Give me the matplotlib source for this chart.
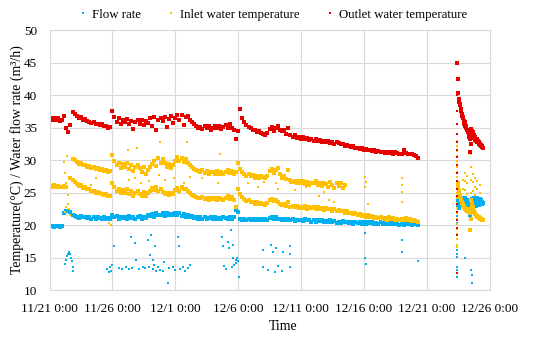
import numpy as np
import matplotlib
matplotlib.use("Agg")
import matplotlib.pyplot as plt

# main record: one reading every 4 h from 11/21 0:00
MAIN_STEP_H = 4

outlet_main = [
    36.4, 36.1, 36.5, 36.2, 36.4, 36.0,   # 11/21
    36.2, 36.8, 35.0, 34.3, 35.4, 37.4,
    37.1, 36.8, 36.5, 36.6, 36.2, 36.3,
    36.0, 35.9, 35.7, 35.8, 35.5, 35.6,
    35.4, 35.5, 35.2, 35.3, 34.9, 35.1,
    37.5, 36.6, 35.9, 36.4, 35.6, 36.2,   # 11/26
    35.8, 36.3, 35.5, 36.0, 34.8, 35.9,
    36.1, 35.6, 36.2, 35.4, 36.0, 35.7,
    36.4, 35.3, 36.7, 34.6, 36.2, 36.5,
    36.0, 36.6, 35.1, 36.3, 36.8, 35.7,
    36.5, 37.0, 36.2, 36.9, 35.4, 36.6,   # 12/1
    36.8, 36.1, 35.9, 35.5, 35.2, 35.0,
    35.1, 34.8, 35.3, 34.9, 35.2, 34.7,
    35.0, 35.3, 34.9, 35.2, 34.8, 35.1,
    35.4, 34.9, 35.6, 35.0, 34.6, 33.2,
    34.5, 37.9, 36.4, 35.8, 35.4, 35.1,   # 12/6
    34.9, 34.6, 34.7, 34.3, 34.5, 34.2,
    34.0, 33.9, 34.2, 34.8, 35.1, 34.5,
    34.9, 35.2, 34.6, 34.4, 34.7, 34.0,
    35.0, 33.9, 33.6, 33.8, 33.4, 33.5,
    33.3, 33.5, 33.2, 33.4, 33.1, 33.3,   # 12/11
    33.0, 33.2, 32.9, 33.1, 32.8, 33.0,
    32.7, 32.9, 32.6, 32.8, 32.5, 32.7,
    32.6, 32.4, 32.5, 32.2, 32.3, 32.1,
    32.0, 32.1, 31.8, 31.9, 31.7, 31.8,
    31.6, 31.7, 31.5, 31.6, 31.4, 31.5,   # 12/16
    31.3, 31.4, 31.2, 31.3, 31.1, 31.2,
    31.1, 31.2, 31.0, 31.2, 31.1, 31.0,
    31.0, 31.6, 31.1, 31.0, 30.9, 31.0,
    30.8, 30.6, 30.3,
]

inlet_high_main = [
    np.nan, np.nan, np.nan, np.nan, np.nan, np.nan,
    np.nan, np.nan, np.nan, np.nan, np.nan, 30.2,
    30.0, 29.7, 29.4, 29.5, 29.2, 29.3,
    29.0, 29.1, 28.8, 28.9, 28.6, 28.7,
    28.5, 28.6, 28.3, 28.4, 28.2, 28.3,
    30.8, 29.9, 29.3, 29.6, 28.8, 29.4,
    29.0, 29.5, 28.6, 29.2, 28.3, 28.9,
    29.3, 28.7, 28.1, 28.9, 27.8, 28.4,
    28.9, 29.4, 29.9, 29.1, 30.3, 29.6,
    30.1, 29.5, 29.0, 29.4, 28.8, 29.3,
    29.8, 30.4, 29.9, 30.3, 29.7, 30.1,
    29.6, 29.2, 28.9, 28.6, 28.4, 28.3,
    28.2, 28.4, 28.0, 28.3, 27.9, 28.2,
    28.1, 27.8, 28.3, 27.9, 28.2, 27.8,
    28.2, 28.4, 28.0, 28.3, 27.9, 28.1,
    29.5, 28.6, 28.1, 27.9, 27.6, 27.8,
    27.5, 27.7, 27.3, 27.6, 27.2, 27.5,
    27.4, 27.2, 27.6, 28.3, 28.6, 28.0,
    28.5, 28.8, 27.9, 27.3, 27.6, 27.1,
    28.5, 26.9, 26.6, 26.8, 26.4, 26.7,
    26.5, 26.8, 26.3, 26.6, 26.2, 26.5,
    26.4, 26.7, 26.1, 26.5, 26.0, 26.4,
    26.3, 25.8, 26.6, 26.1, 25.7, 26.4,
    26.0, 26.5, 25.7, 26.2,
]

inlet_low_main = [
    26.0, 25.8, 26.1, 25.9, 26.0, 25.8,
    25.9, 26.0, 25.8, np.nan, 27.2, 26.9,
    26.6, 26.3, 26.0, 26.1, 25.7, 25.8,
    25.5, 25.6, 25.2, 25.3, 25.0, 25.1,
    24.9, 24.8, 24.6, 24.7, 24.4, 24.5,
    26.4, 25.8, 25.2, 25.6, 24.9, 25.4,
    25.0, 25.5, 24.7, 25.2, 24.5, 25.0,
    25.3, 24.8, 24.5, 25.1, 24.4, 24.9,
    25.2, 25.7, 25.4, 25.8, 25.3, 25.6,
    25.1, 24.7, 24.9, 24.6, 25.0, 24.8,
    25.4, 25.7, 25.3, 25.8, 25.5, 25.6,
    25.2, 24.9, 24.6, 24.4, 24.3, 24.2,
    24.1, 24.3, 24.0, 24.2, 23.9, 24.1,
    24.0, 24.2, 23.9, 24.1, 24.0, 23.8,
    24.2, 24.4, 24.0, 24.3, 23.9, 22.7,
    25.6, 24.8, 24.3, 24.0, 23.7, 23.8,
    23.5, 23.6, 23.3, 23.5, 23.2, 23.4,
    23.3, 23.1, 23.4, 23.8, 24.0, 23.7,
    23.9, 23.6, 23.3, 23.1, 23.2, 22.9,
    23.5, 22.8, 22.9, 22.7, 22.9, 22.6,
    22.8, 22.6, 22.9, 22.5, 22.8, 22.6,
    22.7, 22.5, 22.8, 22.4, 22.6, 22.3,
    22.6, 22.4, 22.5, 22.2, 22.4, 22.1,
    22.3, 22.1, 22.2, 21.9, 22.1, 21.8,
    21.9, 21.7, 21.8, 21.5, 21.7, 21.4,
    21.6, 21.3, 21.5, 21.2, 21.4, 21.1,
    21.3, 21.1, 21.2, 20.9, 21.1, 20.8,
    21.2, 20.9, 21.1, 20.8, 21.0, 20.7,
    21.0, 20.8, 21.1, 20.7, 20.9, 20.6,
    20.8, 20.6, 20.5,
]

flow_main = [
    19.8, 19.9, 19.7, 19.8, 19.9, 19.7,
    19.8, 21.9, 22.1, np.nan, 22.0, 21.6,
    21.4, 21.3, 21.1, 21.4, 21.2, 21.3,
    21.1, 21.3, 21.0, 21.2, 21.0, 21.3,
    21.1, 21.0, 21.2, 20.9, 21.1, 21.0,
    21.5, 21.2, 21.4, 21.0, 21.3, 21.1,
    21.3, 21.0, 21.4, 21.1, 21.2, 21.0,
    21.2, 21.4, 21.0, 21.3, 21.1, 21.5,
    21.4, 21.7, 21.3, 21.8, 21.5, 21.6,
    21.8, 21.4, 21.9, 21.5, 21.7, 21.6,
    21.9, 21.5, 21.8, 21.4, 21.7, 21.3,
    21.5, 21.2, 21.4, 21.1, 21.3, 21.0,
    21.2, 21.0, 21.3, 20.9, 21.1, 21.2,
    21.0, 21.2, 20.9, 21.1, 21.0, 21.2,
    21.1, 20.9, 21.2, 21.0, 21.3, 22.3,
    22.0, 21.0, 20.8, 21.0, 20.7, 20.9,
    20.8, 21.0, 20.7, 20.9, 20.8, 21.0,
    20.8, 20.9, 20.7, 21.1, 21.2, 21.0,
    21.2, 21.0, 20.9, 20.7, 20.9, 20.8,
    21.0, 20.7, 20.9, 20.6, 20.8, 20.7,
    20.8, 20.6, 20.9, 20.7, 20.8, 20.5,
    20.7, 20.5, 20.8, 20.6, 20.7, 20.4,
    20.6, 20.4, 20.7, 20.5, 20.6, 20.3,
    20.5, 20.3, 20.6, 20.4, 20.5, 20.3,
    20.4, 20.2, 20.5, 20.3, 20.4, 20.2,
    20.4, 20.2, 20.5, 20.3, 20.4, 20.1,
    20.3, 20.1, 20.4, 20.2, 20.3, 20.1,
    20.3, 20.1, 20.4, 20.2, 20.3, 20.0,
    20.2, 20.0, 20.3, 20.1, 20.2, 20.0,
    20.2, 20.1, 20.0,
]

# second run (12/23), hourly readings
RUN2_START_H = 778
outlet_run2 = [
    45.0, 42.5, 40.3, 39.4, 38.9, 38.4, 38.6, 37.9, 37.5, 37.1,
    36.8, 36.4, 36.6, 36.0, 35.6, 35.8, 35.2, 34.9, 35.3, 34.6,
    34.3, 34.7, 33.9, 33.6, 33.2, 31.2, 32.5, 34.8, 34.5, 34.0,
    34.3, 33.7, 33.9, 33.4, 33.6, 33.1, 33.3, 32.9, 33.2, 32.7,
    32.9, 32.5, 32.7, 32.3, 32.5, 32.2, 32.3, 32.0, 32.1, 31.9,
]
inlet_run2 = [
    np.nan, 26.5, 25.8, 25.3, 24.9, 24.6, 24.3, 24.0, 23.8, 23.6,
    23.4, 23.2, 23.0, 22.9, 22.8, 22.6, 22.5, 22.4, 22.3, 22.2,
    22.4, 22.1, 22.3, 22.0, 21.8, 19.2, 21.0, 23.8, 23.4, 23.0,
    22.7, 22.5, 22.2, 22.0, 21.9, 21.7, 21.6, 21.5, 21.4, 21.3,
    21.3, 21.2, 21.1, 21.1, 21.0, 21.0, 20.9, 20.9, 20.8, 20.8,
]
flow_run2 = [
    np.nan, 23.9, 23.1, 22.6, 23.4, 24.0, 23.2, 23.7, 22.9, 23.5,
    24.1, 23.3, 23.8, 22.8, 23.6, 24.2, 23.0, 23.5, 22.9, 23.8,
    23.2, 23.6, 22.7, 22.4, 21.9, 21.5, 22.6, 23.4, 24.0, 23.1,
    23.7, 22.9, 23.5, 24.1, 23.3, 23.8, 23.0, 23.6, 24.2, 23.2,
    23.7, 23.1, 23.9, 23.4, 24.0, 23.3, 23.8, 23.2, 23.6, 23.4,
]

# start-up transient of the second run (all read at about 12/23 9:40)
STARTUP_H = 777.7
outlet_startup = [12.6, 18.4, 19.6, 20.8, 22.0, 23.2, 24.4, 25.6, 26.8, 28.0,
                  29.2, 30.4, 31.6, 32.8, 34.0, 35.5, 37.5, 40.0, 42.5]
inlet_startup = [33.0, 32.2, 31.4, 30.6, 29.8, 29.0, 28.2, 27.4, 26.6, 25.8,
                 25.0, 24.2, 23.4, 22.6, 21.8, 21.0, 20.2, 19.4, 18.6, 17.8,
                 17.0, 16.6]
flow_startup = [23.8, 22.6, 21.4, 20.3, 19.4, 18.6, 17.8, 17.0, 16.2, 15.6,
                15.1, 13.6, 13.1, 12.0]

# scattered readings (day since 11/21 0:00, value)
flow_scatter_day = [
    1.23, 1.3, 1.4, 1.48, 1.55, 1.63, 1.71, 1.79, 1.87, 1.9,
    4.6, 4.7, 4.8, 4.9, 5.0, 5.1, 5.5, 5.8, 6.1, 6.3,
    6.5, 6.6, 6.8, 6.9, 7.1, 7.4, 7.6, 7.8, 7.9, 8.0,
    8.1, 8.2, 8.25, 8.3, 8.4, 8.5, 8.6, 8.8, 9.0, 9.1,
    9.4, 9.5, 9.8, 10.0, 10.2, 10.3, 10.4, 10.6, 10.8, 11.0,
    11.2, 13.7, 13.8, 13.9, 14.0, 14.2, 14.3, 14.4, 14.5, 14.6,
    14.6, 14.7, 14.8, 14.85, 14.9, 15.0, 15.1, 17.0, 17.0, 17.4,
    17.6, 17.8, 17.9, 18.0, 18.2, 18.5, 18.6, 19.1, 19.1, 19.15,
    25.1, 25.1, 25.2, 28.0, 28.0, 29.3, 33.05, 33.55, 33.6, 33.62,
]
flow_scatter_val = [
    14.0, 14.6, 15.2, 15.6, 15.9, 15.5, 15.0, 14.4, 13.6, 12.9,
    13.3, 12.7, 13.6, 13.0, 13.8, 16.8, 13.4, 13.2, 13.5, 13.3,
    18.2, 13.4, 17.2, 14.6, 13.3, 13.5, 13.4, 17.7, 13.6, 15.4,
    18.5, 13.2, 14.6, 13.9, 16.7, 13.0, 13.5, 13.1, 12.9, 14.3,
    11.1, 13.4, 13.6, 13.1, 18.2, 16.7, 13.3, 13.6, 12.9, 13.4,
    13.8, 18.2, 16.8, 13.7, 13.2, 17.4, 16.5, 19.2, 13.6, 14.9,
    17.0, 13.8, 14.2, 14.6, 14.9, 14.4, 12.0, 16.2, 13.5, 13.1,
    16.9, 15.9, 12.8, 16.4, 13.7, 13.0, 15.9, 16.8, 15.5, 13.5,
    18.7, 14.9, 14.0, 17.7, 15.9, 14.5, 14.9, 13.1, 12.3, 11.1,
]

inlet_scatter_day = [
    1.15, 1.2, 1.25, 1.3, 1.35, 1.4, 1.45, 1.5, 1.55, 1.6,
    3.27, 3.66, 4.76, 4.9, 6.27, 6.31, 6.84, 6.99, 7.24, 7.9,
    8.7, 8.79, 9.2, 9.9, 10.7, 10.91, 11.2, 12.1, 13.4, 13.56,
    15.8, 16.6, 17.1, 18.0, 18.2, 19.1, 19.5, 20.4, 21.4, 21.8,
    22.2, 22.6, 25.1, 25.1, 25.15, 25.3, 28.0, 28.0, 28.0, 28.02,
    32.9, 32.9, 33.06, 33.06, 33.06, 33.24, 33.24, 33.24, 33.5, 33.5,
    33.5, 33.5, 33.67, 33.67, 33.67, 33.85, 33.85, 33.85, 34.03, 34.03,
    34.25, 34.25,
]
inlet_scatter_val = [
    29.7, 22.0, 28.0, 22.8, 26.4, 30.6, 24.6, 23.3, 22.4, 21.5,
    26.2, 27.2, 20.3, 20.0, 31.5, 26.9, 27.2, 31.8, 26.4, 26.7,
    27.7, 32.8, 26.9, 27.2, 26.4, 32.8, 27.4, 27.2, 26.4, 31.0,
    26.4, 25.9, 26.6, 26.4, 25.6, 26.4, 25.4, 25.9, 24.4, 25.1,
    23.8, 23.5, 27.4, 25.9, 26.6, 23.3, 27.2, 26.2, 25.1, 23.6,
    27.0, 25.5, 28.0, 26.8, 25.4, 27.6, 26.4, 24.8, 31.0, 29.0,
    27.0, 25.0, 27.8, 26.6, 25.2, 27.2, 25.9, 24.6, 26.8, 25.5,
    26.2, 24.9,
]

x_tick_days = [0, 5, 10, 15, 20, 25, 30, 35]
x_tick_labels = ["11/21 0:00", "11/26 0:00", "12/1 0:00", "12/6 0:00",
                 "12/11 0:00", "12/16 0:00", "12/21 0:00", "12/26 0:00"]
y_ticks = [10, 15, 20, 25, 30, 35, 40, 45, 50]

FLOW_C = "#00B0F0"
INLET_C = "#FFC000"
OUTLET_C = "#E60000"


def days(start_h, step_h, n):
    return (start_h + step_h * np.arange(n)) / 24.0


plt.rcParams["font.family"] = ["Liberation Serif", "DejaVu Serif"]

fig = plt.figure(figsize=(5.5, 3.38), dpi=100)
ax = fig.add_axes([0.09, 0.142, 0.80, 0.769])

band = dict(ls="none", marker="s", ms=2.8, mew=0)   # dense logged bands
dots = dict(ls="none", marker="s", ms=2.0, mew=0)   # isolated readings

# flow rate
ax.plot(days(0, MAIN_STEP_H, len(flow_main)), flow_main, color=FLOW_C, label="Flow rate", **band)
ax.plot(days(RUN2_START_H, 1, len(flow_run2)), flow_run2, color=FLOW_C, **band)
ax.plot(np.full(len(flow_startup), STARTUP_H / 24), flow_startup, color=FLOW_C, **dots)
ax.plot(flow_scatter_day, flow_scatter_val, color=FLOW_C, **dots)

# inlet
ax.plot(days(0, MAIN_STEP_H, len(inlet_low_main)), inlet_low_main, color=INLET_C,
        label="Inlet water temperature", **band)
ax.plot(days(0, MAIN_STEP_H, len(inlet_high_main)), inlet_high_main, color=INLET_C, **band)
ax.plot(days(RUN2_START_H, 1, len(inlet_run2)), inlet_run2, color=INLET_C, **band)
ax.plot(np.full(len(inlet_startup), STARTUP_H / 24 + 0.05), inlet_startup, color=INLET_C, **dots)
ax.plot(inlet_scatter_day, inlet_scatter_val, color=INLET_C, **dots)

# outlet
ax.plot(days(0, MAIN_STEP_H, len(outlet_main)), outlet_main, color=OUTLET_C,
        label="Outlet water temperature", **band)
ax.plot(days(RUN2_START_H, 1, len(outlet_run2)), outlet_run2, color=OUTLET_C, **band)
ax.plot(np.full(len(outlet_startup), STARTUP_H / 24), outlet_startup, color=OUTLET_C, **dots)

ax.set_xlim(0, 35)
ax.set_ylim(10, 50)
ax.set_xticks(x_tick_days)
ax.set_xticklabels(x_tick_labels)
ax.set_yticks(y_ticks)
ax.tick_params(length=0, labelsize=9.5, colors="#000000")
ax.tick_params(axis="x", pad=9)
ax.tick_params(axis="y", pad=9)
ax.grid(True, color="#D9D9D9", lw=0.8)
ax.set_axisbelow(True)
for s in ax.spines.values():
    s.set_color("#D9D9D9")
    s.set_linewidth(0.8)

ax.set_xlabel("Time", fontsize=10)
ax.xaxis.set_label_coords(0.53, -0.115)
ax.set_ylabel("Temperature(°C) / Water flow rate (m³/h)", fontsize=10)
ax.yaxis.set_label_coords(-0.058, 0.5)

leg = fig.legend(loc="center", bbox_to_anchor=(0.497, 0.956), ncol=3, frameon=False,
                 fontsize=9.3, markerscale=0.7, handlelength=0.5, handletextpad=0.45,
                 columnspacing=2.1)

fig.savefig("out.png", dpi=100)
